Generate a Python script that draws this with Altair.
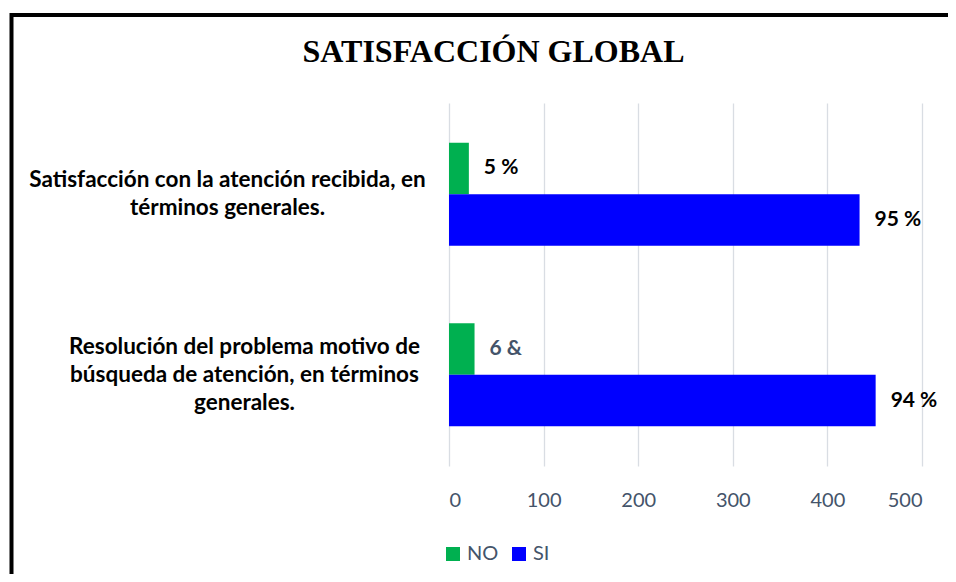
import altair as alt
import pandas as pd

# ---- data ----
categories = [
    "Satisfacción con la atención recibida, en|términos generales.",
    "Resolución del problema motivo de|búsqueda de atención, en términos|generales.",
]
groups = ["NO", "SI"]
no_values = [21, 27]
si_values = [434, 451]
no_labels = ["5 %", "6 &"]
si_labels = ["95 %", "94 %"]
x_ticks = [0, 100, 200, 300, 400, 500]
title_text = "SATISFACCIÓN GLOBAL"

rows = []
for c, nv, sv, nl, sl in zip(categories, no_values, si_values, no_labels, si_labels):
    rows.append({"cat": c, "grp": "NO", "val": nv, "label": nl})
    rows.append({"cat": c, "grp": "SI", "val": sv, "label": sl})
df = pd.DataFrame(rows)

PLOT_W, PLOT_H = 473, 363

is_three_lines = "length(split(datum.value, '|')) > 2"

y_enc = alt.Y(
    "cat:N",
    sort=categories,
    scale=alt.Scale(paddingInner=0.43, paddingOuter=0.22),
    axis=alt.Axis(
        title=None, domain=False, ticks=False, tickSize=0,
        labelAlign="center", labelBaseline="middle",
        labelPadding={"condition": {"test": is_three_lines, "value": 205}, "value": 222},
        labelOffset={"condition": {"test": is_three_lines, "value": -28}, "value": -14},
        labelFont="Lato", labelFontWeight="bold", labelFontSize=22.5,
        labelColor="black", labelLimit=1000, labelLineHeight=28,
        labelOverlap=False, labelExpr="split(datum.label, '|')",
    ),
)
x_enc = alt.X(
    "val:Q",
    scale=alt.Scale(domain=[0, 500], nice=False),
    axis=alt.Axis(
        title=None, values=x_ticks, domain=False, ticks=False, tickSize=0,
        grid=True, gridColor="#D9DDE3", gridWidth=1.3,
        labelFont="Lato", labelFontSize=20, labelColor="#44546A", labelPadding=24,
    ),
)
yoff = alt.YOffset("grp:N", sort=groups, scale=alt.Scale(paddingInner=0, paddingOuter=0))

base = alt.Chart(df)

bars = base.mark_bar().encode(
    x=x_enc,
    y=y_enc,
    yOffset=yoff,
    color=alt.Color(
        "grp:N",
        sort=groups,
        scale=alt.Scale(domain=groups, range=["#00B050", "#0000FF"]),
        legend=alt.Legend(
            title=None, orient="none", legendX=-6, legendY=441,
            direction="horizontal", symbolType="square", symbolSize=196,
            symbolStrokeWidth=0, labelFont="Lato", labelFontSize=20,
            labelColor="#44546A", columnPadding=10, labelOffset=4, padding=0,
        ),
    ),
)

labels = base.mark_text(
    align="left", baseline="middle", dx=15,
    font="Lato", fontWeight="bold", fontSize=21,
).encode(
    x="val:Q",
    y=alt.Y("cat:N", sort=categories),
    yOffset=yoff,
    text="label:N",
    color=alt.condition("datum.label == '6 &'", alt.value("#44546A"), alt.value("black")),
)

border = alt.Chart(alt.Data(values=[{}])).mark_rect(
    fillOpacity=0, stroke="black", strokeWidth=4
).encode(
    x=alt.value(-437.5), x2=alt.value(PLOT_W + 60),
    y=alt.value(-88), y2=alt.value(PLOT_H + 140),
)

chart = alt.layer(border, bars, labels).properties(
    width=PLOT_W,
    height=PLOT_H,
    title=alt.TitleParams(
        title_text, font="Liberation Serif", fontSize=32, fontWeight="bold",
        color="black", anchor="middle", baseline="alphabetic",
        dx=-192, dy=81, offset=0,
    ),
    autosize=alt.AutoSizeParams(type="none"),
    padding={"left": 441, "top": 95, "right": 26, "bottom": 108},
    background="white",
).configure_view(stroke=None)

chart.save("out.html", embed_options={"renderer": "svg", "actions": False})
